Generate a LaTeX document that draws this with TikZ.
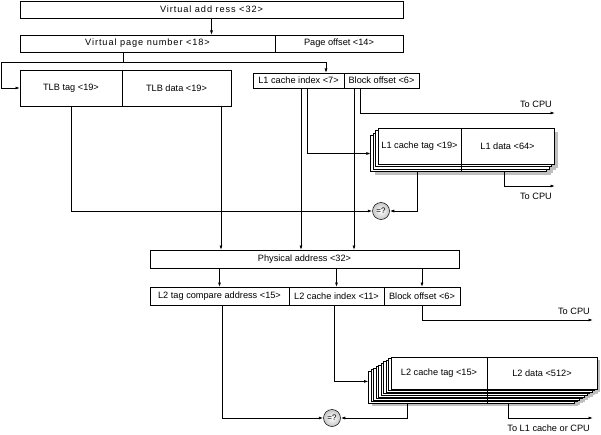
\documentclass[tikz,border=0pt]{standalone}
\usepackage{fontspec}
\setmainfont{Liberation Sans}
\usetikzlibrary{arrows.meta,calc}

\newcommand{\wideletters}{\addfontfeatures{LetterSpace=10}}

\begin{document}
\begin{tikzpicture}[x=1pt,y=-1pt,
    box/.style={draw,line width=0.8pt,fill=white,inner sep=0pt,outer sep=0pt,
        anchor=north west,font=\fontsize{9.2}{11}\selectfont},
    wire/.style={line width=0.8pt},
    arr/.style={wire,-{Latex[length=4.5pt,width=3pt]}},
    lbl/.style={inner sep=0pt,anchor=east,font=\fontsize{9.2}{11}\selectfont},
    cmp/.style={circle,draw,line width=0.5pt,shading=radial,inner color=white,
        outer color=gray!45,minimum size=17pt,inner sep=0pt,font=\fontsize{8}{9}\selectfont},
    shade/.style={fill=gray!50}
]
\useasboundingbox (0,0) rectangle (601,435);

% Virtual address and its two fields
\node[box,minimum width=383pt,minimum height=17pt] (va) at (20,1) {\wideletters Virtual add ress <32>};
\node[box,minimum width=255pt,minimum height=17pt] (vpn) at (20,35) {\wideletters Virtual page number <18>};
\node[box,minimum width=128pt,minimum height=17pt] (pgoff) at (275,35) {Page offset <14>};
\draw[arr] (va) -- (va |- vpn.north);

% TLB
\node[box,minimum width=102pt,minimum height=36pt] (tlbtag) at (20,70) {TLB tag <19>};
\node[box,minimum width=109pt,minimum height=36pt] (tlbdata) at (122,70) {TLB data <19>};

% L1 address fields
\node[box,minimum width=91pt,minimum height=15pt] (l1idx) at (253,73) {L1 cache index <7>};
\node[box,minimum width=75pt,minimum height=15pt] (l1off) at (344,73) {Block offset <6>};

% Split of the page number
\coordinate (split) at (123,62);
\coordinate (toidx) at (326,62);
\draw[wire] (vpn.south -| split) -- (split);
\draw[arr] (split) -- (1,62) |- (tlbtag.west);
\draw[arr] (split) -- (toidx) -- (toidx |- l1idx.north);

% L1 cache, stacked
\def\dx{2.4}
\def\dy{2.5}
\foreach \i in {3,...,0}
    \fill[shade] ({378-\i*\dx+4},{128+\i*\dy+4}) rectangle +(176,36);
\foreach \i in {3,2,1}
    \node[box,minimum width=176pt,minimum height=36pt] (l1layer\i) at ({378-\i*\dx},{128+\i*\dy}) {};
\node[box,minimum width=83pt,minimum height=36pt] (l1tag) at (378,128) {L1 cache tag <19>};
\node[box,minimum width=93pt,minimum height=36pt] (l1data) at (461,128) {L1 data <64>};
\draw[wire] (l1tag.south east) -- (l1tag.south east |- l1layer3.south);

% Physical address
\node[box,minimum width=309pt,minimum height=18pt] (phys) at (150,250) {Physical address <32>};

% Comparator for L1
\node[cmp] (eq1) at (381,211) {=?};

\coordinate (cpu1) at (555,113);
\coordinate (cpu2) at (555,186);
\draw[arr] (tlbtag.south) |- (eq1.west);
\draw[arr] (tlbdata.south -| 221,0) -- (221,0 |- phys.north);
\draw[arr] (l1idx.south -| 301,0) -- (301,0 |- phys.north);
\draw[arr] (l1idx.south -| 307,0) |- (l1layer3.west);
\draw[arr] (l1off.south -| 354,0) -- (354,0 |- phys.north);
\draw[arr] (l1off.south -| 360,0) |- (cpu1);
\draw[arr] (l1layer3.south -| 417,0) |- (eq1.east);
\draw[arr] (l1layer3.south -| 504,0) |- (cpu2);
\node[lbl] (cpulbl1) at (552,104) {To CPU};
\node[lbl] (cpulbl2) at (552,196) {To CPU};

% L2 address fields
\node[box,minimum width=139pt,minimum height=18pt] (l2tag) at (150,287) {L2 tag compare address <15>};
\node[box,minimum width=95pt,minimum height=18pt] (l2idx) at (289,287) {L2 cache index <11>};
\node[box,minimum width=76pt,minimum height=18pt] (l2off) at (384,287) {Block offset <6>};
\foreach \f in {l2tag,l2idx,l2off}
    \draw[arr] (phys.south -| \f) -- (\f.north);

% L2 cache, stacked
\def\ex{2.5}
\def\ey{1.6}
\foreach \i in {9,...,0}
    \fill[shade] ({391-\i*\ex+3},{357+\i*\ey+3}) rectangle +(206,32);
\foreach \i in {9,...,1}
    \node[box,minimum width=206pt,minimum height=32pt] (l2layer\i) at ({391-\i*\ex},{357+\i*\ey}) {};
\node[box,minimum width=96pt,minimum height=32pt] (l2ctag) at (391,357) {L2 cache tag <15>};
\node[box,minimum width=110pt,minimum height=32pt] (l2data) at (487,357) {L2 data <512>};
\draw[wire] (l2ctag.south east) -- (l2ctag.south east |- l2layer9.south);

% Comparator for L2
\node[cmp] (eq2) at (332,418) {=?};

\coordinate (cpu3) at (593,320);
\coordinate (cpu4) at (593,418);
\draw[arr] (l2tag.south -| 222,0) |- (eq2.west);
\draw[arr] (l2idx.south -| 334,0) |- ($(l2layer9.west)+(0,-6)$);
\draw[arr] (l2off.south) |- (cpu3);
\draw[arr] (l2layer9.south -| 407,0) |- (eq2.east);
\draw[arr] (l2layer9.south -| 508,0) |- (cpu4);
\node[lbl] (cpulbl3) at (590,311) {To CPU};
\node[lbl] (cpulbl4) at (590,428) {To L1 cache or CPU};

\end{tikzpicture}
\end{document}
